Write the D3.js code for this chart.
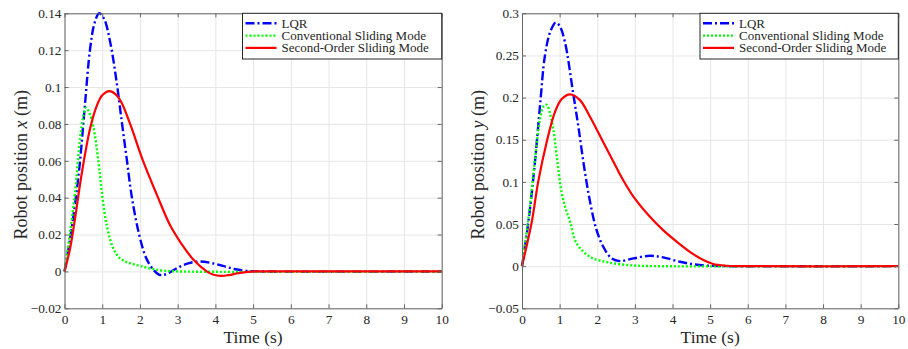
<!DOCTYPE html>
<html lang="en">
	<head>
		<meta charset="utf-8">
		<title>Robot position</title>
		<script type="text/javascript" src="https://d3js.org/d3.v7.min.js"></script>
		<style type="text/css">
			body { margin: 0; background: #fff; }
			svg text { font-family: "Liberation Serif", "Times New Roman", Times, "DejaVu Serif", serif !important; fill: #262626; }
		</style>
	</head>
	<body>
		<script type="text/javascript">

			// ---- data ----
			var seriesNames = ["LQR", "Conventional Sliding Mode", "Second-Order Sliding Mode"];

			// x position
			var lqrXt = [0, 0.15, 0.3, 0.41, 0.54, 0.68, 0.8, 0.92, 1.05, 1.21, 1.38, 1.52, 1.65, 1.78, 1.96, 2.13, 2.22, 2.35, 2.5, 2.6, 2.75, 3.0, 3.3, 3.6, 3.9, 4.2, 4.5, 4.8, 5.2, 10];
			var lqrXv = [0, 0.018, 0.040, 0.0595, 0.090, 0.121, 0.135, 0.140, 0.137, 0.1245, 0.103, 0.081, 0.061, 0.041, 0.0216, 0.009, 0.005, 0.001, -0.0017, -0.002, -0.001, 0.002, 0.0045, 0.0054, 0.0045, 0.003, 0.0013, 0.0003, 0, 0];
			var csmXt = [0, 0.15, 0.28, 0.41, 0.5, 0.57, 0.66, 0.76, 0.9, 0.99, 1.12, 1.29, 1.45, 1.6, 1.8, 2.0, 2.3, 2.6, 3.0, 10];
			var csmXv = [0, 0.0216, 0.043, 0.072, 0.084, 0.0888, 0.086, 0.079, 0.0595, 0.043, 0.025, 0.0126, 0.0075, 0.0055, 0.004, 0.003, 0.0015, 0.0005, 0, 0];
			var ssmXt = [0, 0.15, 0.28, 0.41, 0.54, 0.68, 0.85, 1.0, 1.19, 1.35, 1.5, 1.74, 2.09, 2.45, 2.8, 3.1, 3.42, 3.77, 3.95, 4.15, 4.35, 4.6, 4.85, 5.2, 10];
			var ssmXv = [0, 0.0126, 0.0288, 0.047, 0.063, 0.0776, 0.0895, 0.0955, 0.0978, 0.0962, 0.092, 0.080, 0.0595, 0.0415, 0.025, 0.015, 0.0063, 0, -0.0018, -0.0024, -0.002, -0.001, -0.0002, 0, 0];

			// y position
			var lqrYt = [0, 0.17, 0.345, 0.48, 0.61, 0.75, 0.895, 1.0, 1.14, 1.36, 1.5, 1.65, 1.81, 1.98, 2.16, 2.38, 2.6, 2.96, 3.4, 3.75, 4.2, 4.6, 5.0, 5.4, 10];
			var lqrYv = [0, 0.0526, 0.124, 0.191, 0.25, 0.278, 0.289, 0.285, 0.266, 0.205, 0.165, 0.118, 0.076, 0.043, 0.023, 0.0092, 0.006, 0.0092, 0.0123, 0.0104, 0.0052, 0.002, 0.0004, 0, 0];
			var csmYt = [0, 0.17, 0.345, 0.48, 0.58, 0.656, 0.75, 0.83, 0.92, 1.05, 1.16, 1.28, 1.45, 1.81, 2.34, 3.0, 3.5, 10];
			var csmYv = [0, 0.056, 0.126, 0.175, 0.19, 0.1915, 0.18, 0.163, 0.1316, 0.088, 0.068, 0.0526, 0.027, 0.011, 0.004, 0.0007, 0, 0];
			var ssmYt = [0, 0.26, 0.43, 0.655, 0.877, 1.05, 1.276, 1.54, 1.81, 2.0, 2.16, 2.43, 2.69, 3.0, 3.4, 3.75, 4.11, 4.46, 4.82, 5.08, 5.43, 5.8, 10];
			var ssmYv = [0, 0.0526, 0.1, 0.147, 0.183, 0.198, 0.2038, 0.197, 0.177, 0.161, 0.147, 0.124, 0.102, 0.080, 0.0585, 0.0427, 0.029, 0.017, 0.0072, 0.0025, 0.0005, 0, 0];

			// tick values
			var timeTicks = [0, 1, 2, 3, 4, 5, 6, 7, 8, 9, 10];
			var xPosTicks = [-0.02, 0, 0.02, 0.04, 0.06, 0.08, 0.1, 0.12, 0.14];
			var yPosTicks = [-0.05, 0, 0.05, 0.1, 0.15, 0.2, 0.25, 0.3];

			var w = 908;
			var h = 349;
			var fontFam = "'Liberation Serif', 'Times New Roman', Times, 'DejaVu Serif', serif";

			var colors = ["#0000ff", "#00ff00", "#ff0000"];
			var dashes = ["9,3,2,3", "2,2", null];
			var widths = [2.4, 2.4, 2.2];

			var svg = d3.select("body")
						.append("svg")
						.attr("width", w)
						.attr("height", h)
						.attr("font-family", fontFam);

			function zip(ts, vs) {
				return ts.map(function(t, i) { return [t, vs[i]]; });
			}

			function fmt(d) {
				if (d === 0) return "0";
				return (d < 0 ? "\u2212" : "") + Math.abs(d);
			}

			function drawPanel(left, right, yDomain, yTicks, varName, series) {
				var top = 13.3, bottom = 308.3;

				var x = d3.scaleLinear().domain([0, 10]).range([left, right]);
				var y = d3.scaleLinear().domain(yDomain).range([bottom, top]);

				var g = svg.append("g");

				// grid
				g.append("g")
				 .attr("transform", "translate(0," + bottom + ")")
				 .call(d3.axisBottom(x).tickValues(timeTicks).tickSize(-(bottom - top)).tickFormat(""))
				 .call(function(s) { s.select(".domain").remove(); s.selectAll("line").attr("stroke", "#e6e6e6"); });
				g.append("g")
				 .attr("transform", "translate(" + left + ",0)")
				 .call(d3.axisLeft(y).tickValues(yTicks).tickSize(-(right - left)).tickFormat(""))
				 .call(function(s) { s.select(".domain").remove(); s.selectAll("line").attr("stroke", "#e6e6e6"); });

				// lines
				var line = d3.line()
							 .x(function(d) { return x(d[0]); })
							 .y(function(d) { return y(d[1]); })
							 .curve(d3.curveCatmullRom.alpha(0.5));

				series.forEach(function(s, i) {
					g.append("path")
					 .datum(s)
					 .attr("d", line)
					 .attr("fill", "none")
					 .attr("stroke", colors[i])
					 .attr("stroke-width", widths[i])
					 .attr("stroke-dasharray", dashes[i]);
				});

				// axes (ticks inward)
				var ax = g.append("g")
				 .attr("transform", "translate(0," + bottom + ")")
				 .call(d3.axisBottom(x).tickValues(timeTicks).tickSizeInner(-4).tickSizeOuter(0).tickPadding(6).tickFormat(fmt));
				var ay = g.append("g")
				 .attr("transform", "translate(" + left + ",0)")
				 .call(d3.axisLeft(y).tickValues(yTicks).tickSizeInner(-4).tickSizeOuter(0).tickPadding(3).tickFormat(fmt));
				var at = g.append("g")
				 .attr("transform", "translate(0," + top + ")")
				 .call(d3.axisTop(x).tickValues(timeTicks).tickSizeInner(-4).tickSizeOuter(0).tickFormat(""));
				var ar = g.append("g")
				 .attr("transform", "translate(" + right + ",0)")
				 .call(d3.axisRight(y).tickValues(yTicks).tickSizeInner(-4).tickSizeOuter(0).tickFormat(""));
				[ax, ay, at, ar].forEach(function(a) {
					a.attr("font-family", fontFam).attr("font-size", 13.3);
					a.selectAll("path, line").attr("stroke", "#666");
					a.selectAll("text").attr("fill", "#262626");
				});

				// axis labels
				g.append("text")
				 .attr("x", (left + right) / 2)
				 .attr("y", 343)
				 .attr("text-anchor", "middle")
				 .attr("font-size", 17.5)
				 .text("Time (s)");

				var yl = g.append("text")
				 .attr("transform", "translate(" + (left - 38) + "," + ((top + bottom) / 2 + 4) + ") rotate(-90)")
				 .attr("text-anchor", "middle")
				 .attr("font-size", 18);
				yl.append("tspan").text("Robot position ");
				yl.append("tspan").attr("font-style", "italic").text(varName);
				yl.append("tspan").text(" (m)");

				// legend
				var lx = left + 178, ly = top;
				var lw = right - lx, lh = 45.7;
				var leg = g.append("g");
				leg.append("rect")
				   .attr("x", lx).attr("y", ly)
				   .attr("width", lw).attr("height", lh)
				   .attr("fill", "#fff")
				   .attr("stroke", "#262626")
				   .attr("stroke-width", 1);
				seriesNames.forEach(function(name, i) {
					var cy = ly + 10 + i * 12.3;
					leg.append("line")
					   .attr("x1", lx + 3).attr("x2", lx + 34)
					   .attr("y1", cy).attr("y2", cy)
					   .attr("stroke", colors[i])
					   .attr("stroke-width", widths[i])
					   .attr("stroke-dasharray", dashes[i]);
					leg.append("text")
					   .attr("x", lx + 39)
					   .attr("y", cy + 4.5)
					   .attr("font-size", 13)
					   .text(name);
				});
			}

			drawPanel(64.5, 441.7, [-0.02, 0.14], xPosTicks, "x",
				[zip(lqrXt, lqrXv), zip(csmXt, csmXv), zip(ssmXt, ssmXv)]);
			drawPanel(522, 898.3, [-0.05, 0.3], yPosTicks, "y",
				[zip(lqrYt, lqrYv), zip(csmYt, csmYv), zip(ssmYt, ssmYv)]);

		</script>
	</body>
</html>
